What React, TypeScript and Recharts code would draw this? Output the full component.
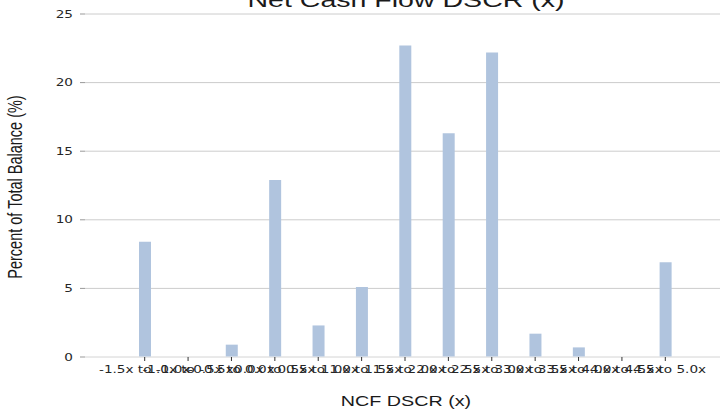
import React from 'react';
import { BarChart, Bar, XAxis, YAxis, CartesianGrid, ReferenceLine } from 'recharts';

const categories = [
  '-1.5x to -1.0x', '-1.0x to -0.5x', '-0.5x to 0.0x', '0.0x to 0.5x', '0.5x to 1.0x',
  '1.0x to 1.5x', '1.5x to 2.0x', '2.0x to 2.5x', '2.5x to 3.0x', '3.0x to 3.5x',
  '3.5x to 4.0x', '4.0x to 4.5x', '4.5x to 5.0x',
];
const percentValues = [8.4, 0, 0.9, 12.9, 2.3, 5.1, 22.7, 16.3, 22.2, 1.7, 0.7, 0, 6.9];
const yTicks = [0, 5, 10, 15, 20, 25];

const data = categories.map((c, i) => ({ name: c, value: percentValues[i] }));

const SX = 1.36;

const XTick = (props: any) => {
  const { x, y, payload } = props;
  return (
    <g transform={`translate(${x},${y}) scale(${SX},1)`}>
      <text x={0} y={0} dy="0.355em" textAnchor="middle" fontFamily="DejaVu Sans" fontSize={10} fill="#262626">
        {payload.value}
      </text>
    </g>
  );
};

const YTick = (props: any) => {
  const { x, y, payload } = props;
  return (
    <g transform={`translate(${x},${y}) scale(${SX},1)`}>
      <text x={0} y={0} dy="0.355em" textAnchor="end" fontFamily="DejaVu Sans" fontSize={10} fill="#262626">
        {payload.value}
      </text>
    </g>
  );
};

export default function App() {
  return (
    <div style={{ position: 'absolute', left: 0, top: 0, width: 720, height: 411, background: '#fff' }}>
      <BarChart width={720} height={411} data={data} margin={{ top: 14, right: 0, bottom: 0, left: 0 }} barCategoryGap={0}>
        <CartesianGrid vertical={false} stroke="#cccccc" strokeWidth={1} />
        <XAxis
          dataKey="name"
          interval={0}
          padding={{ left: 38, right: 33 }}
          axisLine={false}
          tickLine={{ stroke: '#333333' }}
          tickSize={4}
          tickMargin={8}
          tick={<XTick />}
          height={54}
        />
        <YAxis
          domain={[0, 25]}
          ticks={yTicks}
          width={85}
          axisLine={false}
          tickLine={{ stroke: '#999999' }}
          tickSize={5}
          tickMargin={7}
          tick={<YTick />}
        />
        <ReferenceLine y={0} stroke="#eeeeee" strokeWidth={1} />
        <Bar dataKey="value" fill="#b0c4de" barSize={12} isAnimationActive={false} />
        <g>
          <g transform={`translate(406,7) scale(${SX},1)`}>
            <text x={0} y={0} textAnchor="middle" fontFamily="Liberation Sans" fontSize={21} fill="#1a1a1a">
              Net Cash Flow DSCR (x)
            </text>
          </g>
          <g transform={`translate(406,406) scale(${SX},1)`}>
            <text x={0} y={0} textAnchor="middle" fontFamily="Liberation Sans" fontSize={14.5} fill="#1a1a1a">
              NCF DSCR (x)
            </text>
          </g>
          <g transform={`translate(22,187) scale(${SX},1) rotate(-90)`}>
            <text x={0} y={0} textAnchor="middle" fontFamily="Liberation Sans" fontSize={14.5} fill="#1a1a1a">
              Percent of Total Balance (%)
            </text>
          </g>
        </g>
      </BarChart>
    </div>
  );
}
